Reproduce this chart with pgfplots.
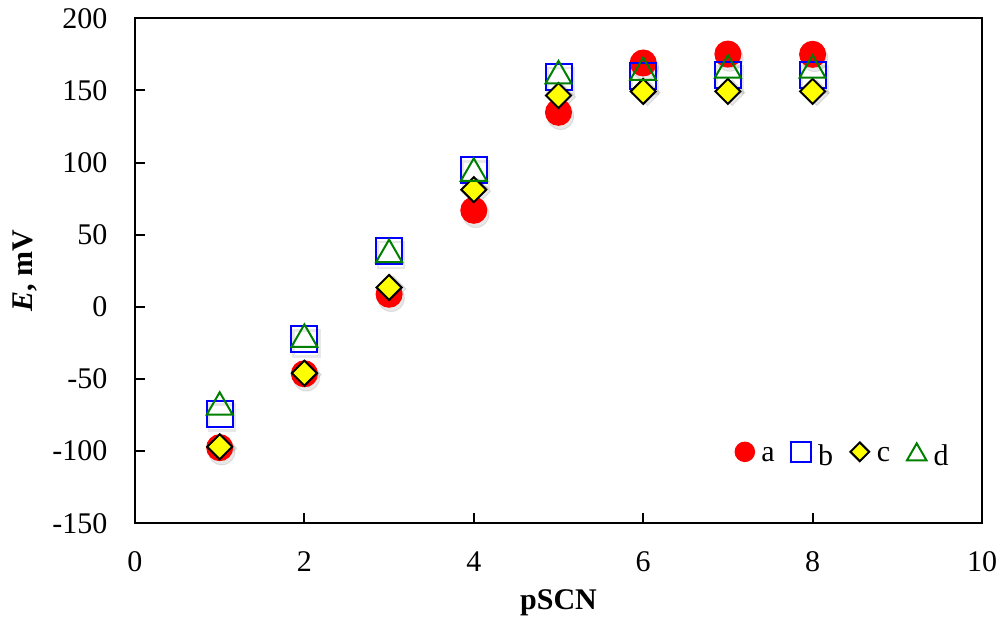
\documentclass[border=0pt]{standalone}
\usepackage{fontspec}
\setmainfont{Liberation Serif}
\usepackage{pgfplots}
\pgfplotsset{compat=1.18}
\definecolor{mred}{RGB}{255,0,0}
\definecolor{mblue}{RGB}{0,0,255}
\definecolor{myellow}{RGB}{255,255,0}
\definecolor{mgreen}{RGB}{0,128,0}
\newcommand\lbl{\fontsize{12}{14.4}\selectfont}
\pgfplotstableread{
x a b c d
1 -97.6 -74 -97 -67
2 -46.4 -22.6 -46 -20
3 8.7 38.5 13.4 38.8
4 66.9 94.5 81.2 95.1
5 134.8 159.3 146.5 162.6
6 169 159.7 149.3 165
7 175.2 160.4 149.3 166.6
8 175 160.4 149.3 166.6
}\data
\begin{document}
\begin{tikzpicture}
\begin{axis}[
  scale only axis,
  width=338.8pt, height=202pt,
  xmin=0, xmax=10, ymin=-150, ymax=200,
  xtick={0,2,4,6,8,10},
  ytick={-150,-100,-50,0,50,100,150,200},
  axis line style={line width=0.8pt},
  tick style={line width=0.8pt, black},
  tick align=inside,
  major tick length=4pt,
  xtick pos=bottom, ytick pos=left,
  /pgf/number format/assume math mode=true,
  every tick label/.append style={font=\lbl},
  yticklabel style={anchor=east, xshift=-7.5pt},
  xticklabel style={anchor=north, yshift=-7.7pt},
  xlabel={\textbf{pSCN}},
  ylabel={\textbf{\textit{E}, mV}},
  xlabel style={font=\lbl, at={(axis description cs:0.5,0)}, anchor=center, yshift=-31.7pt},
  ylabel style={font=\lbl, at={(axis description cs:-0.1299,0.5)}, anchor=center},
  legend style={draw=none, fill=none, font=\lbl, legend columns=4,
    at={(axis description cs:0.9745,0.132)}, anchor=east,
    /tikz/every odd column/.append style={column sep=0.6pt},
    /tikz/every even column/.append style={column sep=4.5pt},
    nodes={inner xsep=1.5pt}},
  legend image code/.code={\path (0,0) (0.3cm,0);
    \begin{scope}[shift={(0.15cm,1.9pt)}]\draw[#1, scale=0.75] plot coordinates {(0,0)};\end{scope}},
]
% shadows
\addplot[only marks, forget plot, mark=*, mark size=5.3pt, draw=none, fill=black, opacity=0.09, mark options={xshift=0.8pt, yshift=-1.6pt}] table[x=x,y=a] {\data};
\addplot[only marks, forget plot, mark=square, mark size=5.2pt, black, line width=0.9pt, opacity=0.09, mark options={xshift=0.8pt, yshift=-1.6pt}] table[x=x,y=b] {\data};
\addplot[only marks, forget plot, mark=square*, mark size=3.6pt, draw=none, fill=black, opacity=0.09, mark options={rotate=45, xshift=0.8pt, yshift=-1.6pt}] table[x=x,y=c] {\data};
% series
\addplot[only marks, mark=*, mark size=5.2pt, draw=mred, fill=mred] table[x=x,y=a] {\data};
\addlegendentry{a}
\addplot[only marks, mark=square, mark size=5.2pt, mblue, line width=0.8pt] table[x=x,y=b] {\data};
\addlegendentry{b}
\addplot[only marks, mark=square*, mark size=3.54pt, draw=black, fill=myellow, line width=0.8pt, mark options={rotate=45}] table[x=x,y=c] {\data};
\addlegendentry{c}
\addplot[only marks, mark=triangle, mark size=6pt, mgreen, line width=0.8pt, mark options={yshift=-1.5pt}] table[x=x,y=d] {\data};
\addlegendentry{d}
\end{axis}
\pgfresetboundingbox
\path (current axis.south west) ++(-54pt,-41.9pt) coordinate (bl);
\path (current axis.north east) ++(9.2pt,7.3pt) coordinate (tr);
\useasboundingbox (bl) rectangle (tr);
\end{tikzpicture}
\end{document}
